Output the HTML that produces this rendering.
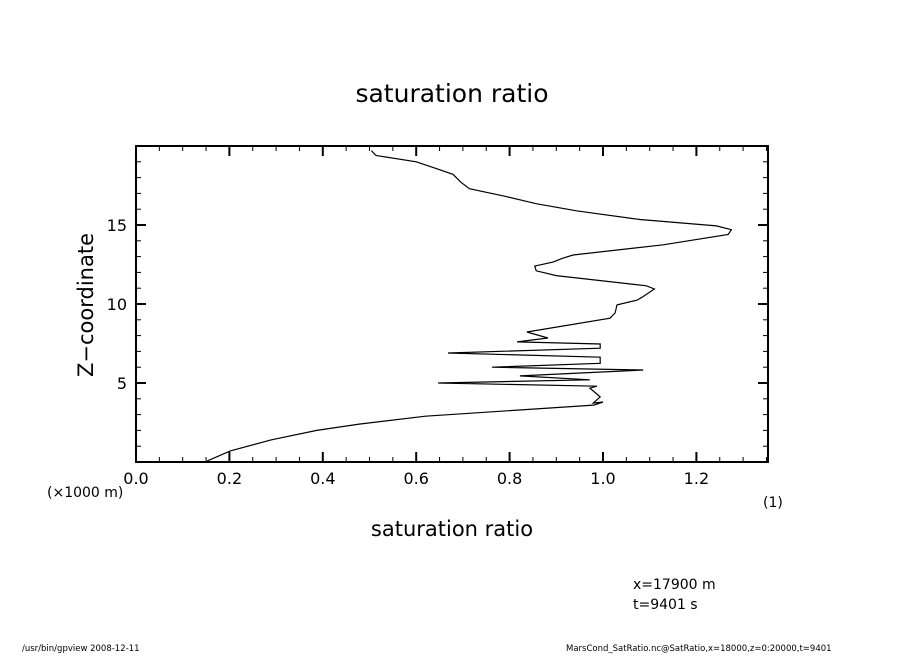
<!DOCTYPE html>
<html><head><meta charset="utf-8"><style>
html,body{margin:0;padding:0;background:#fff;}
svg text{font-family:"DejaVu Sans","Liberation Sans",sans-serif;fill:#000;}
</style></head><body>
<svg id="chart" width="904" height="654" xmlns="http://www.w3.org/2000/svg">
<rect width="904" height="654" fill="#fff"/>
<text x="452" y="102" font-size="25" text-anchor="middle">saturation ratio</text>
<rect x="136" y="146" width="632" height="316" fill="none" stroke="#000" stroke-width="2"/>
<g id="ticks"></g>
<g id="labels"></g>
<path id="line" fill="none" stroke="#000" stroke-width="1.2"/>
<text x="452" y="536" font-size="21" text-anchor="middle">saturation ratio</text>
<text transform="translate(93,305) rotate(-90)" font-size="21" text-anchor="middle">Z−coordinate</text>
<text x="47" y="497" font-size="14">(×1000 m)</text>
<text x="763" y="507" font-size="14">(1)</text>
<text x="633" y="589" font-size="14">x=17900 m</text>
<text x="633" y="609" font-size="14">t=9401 s</text>
<text x="22" y="651" font-size="8.5">/usr/bin/gpview   2008-12-11</text>
<text x="566" y="651" font-size="8.5">MarsCond_SatRatio.nc@SatRatio,x=18000,z=0:20000,t=9401</text>
</svg>
<script>
const xTickLabels = ["0.0","0.2","0.4","0.6","0.8","1.0","1.2"];
const yTickLabels = ["5","10","15"];
const satValues = [0.152,0.202,0.289,0.387,0.478,0.62,0.98,1.0,0.979,0.994,0.972,0.987,0.647,0.972,0.822,1.086,0.762,0.994,0.994,0.668,0.994,0.994,0.816,0.882,0.837,1.015,1.026,1.03,1.073,1.082,1.11,1.093,0.9,0.857,0.854,0.893,0.914,0.936,1.129,1.268,1.275,1.243,1.079,0.943,0.857,0.793,0.714,0.696,0.679,0.65,0.6,0.514,0.504];
const zValues = [0.06,0.7,1.4,2.0,2.4,2.9,3.6,3.8,3.73,4.12,4.68,4.8,5.0,5.2,5.45,5.82,6.0,6.25,6.63,6.9,7.2,7.47,7.6,7.85,8.23,9.1,9.43,9.94,10.25,10.4,10.95,11.15,11.8,12.1,12.4,12.65,12.9,13.1,13.75,14.4,14.7,14.94,15.35,15.9,16.35,16.8,17.3,17.7,18.2,18.5,19.0,19.4,19.7];
const X0=136,X1=768,Y0=462,Y1=146;
const xs=v=>X0+v*467;
const ys=z=>Y0-z*(Y0-Y1)/20;
const NS="http://www.w3.org/2000/svg";
const tg=document.getElementById('ticks'), lg=document.getElementById('labels');
function ln(x1,y1,x2,y2,w){const l=document.createElementNS(NS,'line');
l.setAttribute('x1',x1);l.setAttribute('y1',y1);l.setAttribute('x2',x2);l.setAttribute('y2',y2);
l.setAttribute('stroke','#000');l.setAttribute('stroke-width',w);


tg.appendChild(l);}
for(let i=0;i*0.05<=1.35+1e-9;i++){const x=xs(i*0.05);const maj=i%4===0;const L=maj?10:5;
ln(x,Y0,x,Y0-L,maj?2:1);ln(x,Y1,x,Y1+L,maj?2:1);}
for(let z=1;z<20;z++){const y=ys(z);const maj=z%5===0;const L=maj?10:5;
ln(X0,y,X0+L,y,maj?2:1);ln(X1,y,X1-L,y,maj?2:1);}
xTickLabels.forEach(t=>{const v=parseFloat(t);const e=document.createElementNS(NS,'text');
e.setAttribute('x',xs(v));e.setAttribute('y',484);e.setAttribute('font-size','16');e.setAttribute('text-anchor','middle');
e.textContent=t;


lg.appendChild(e);});
yTickLabels.forEach(t=>{const v=parseFloat(t);const e=document.createElementNS(NS,'text');
e.setAttribute('x',127);e.setAttribute('y',ys(v)+6);e.setAttribute('font-size','16');e.setAttribute('text-anchor','end');
e.textContent=t;


lg.appendChild(e);});
document.getElementById('line').setAttribute('d',satValues.map((v,i)=>(i?'L':'M')+xs(v).toFixed(1)+','+ys(zValues[i]).toFixed(1)).join(' '));
</script>
</body></html>
